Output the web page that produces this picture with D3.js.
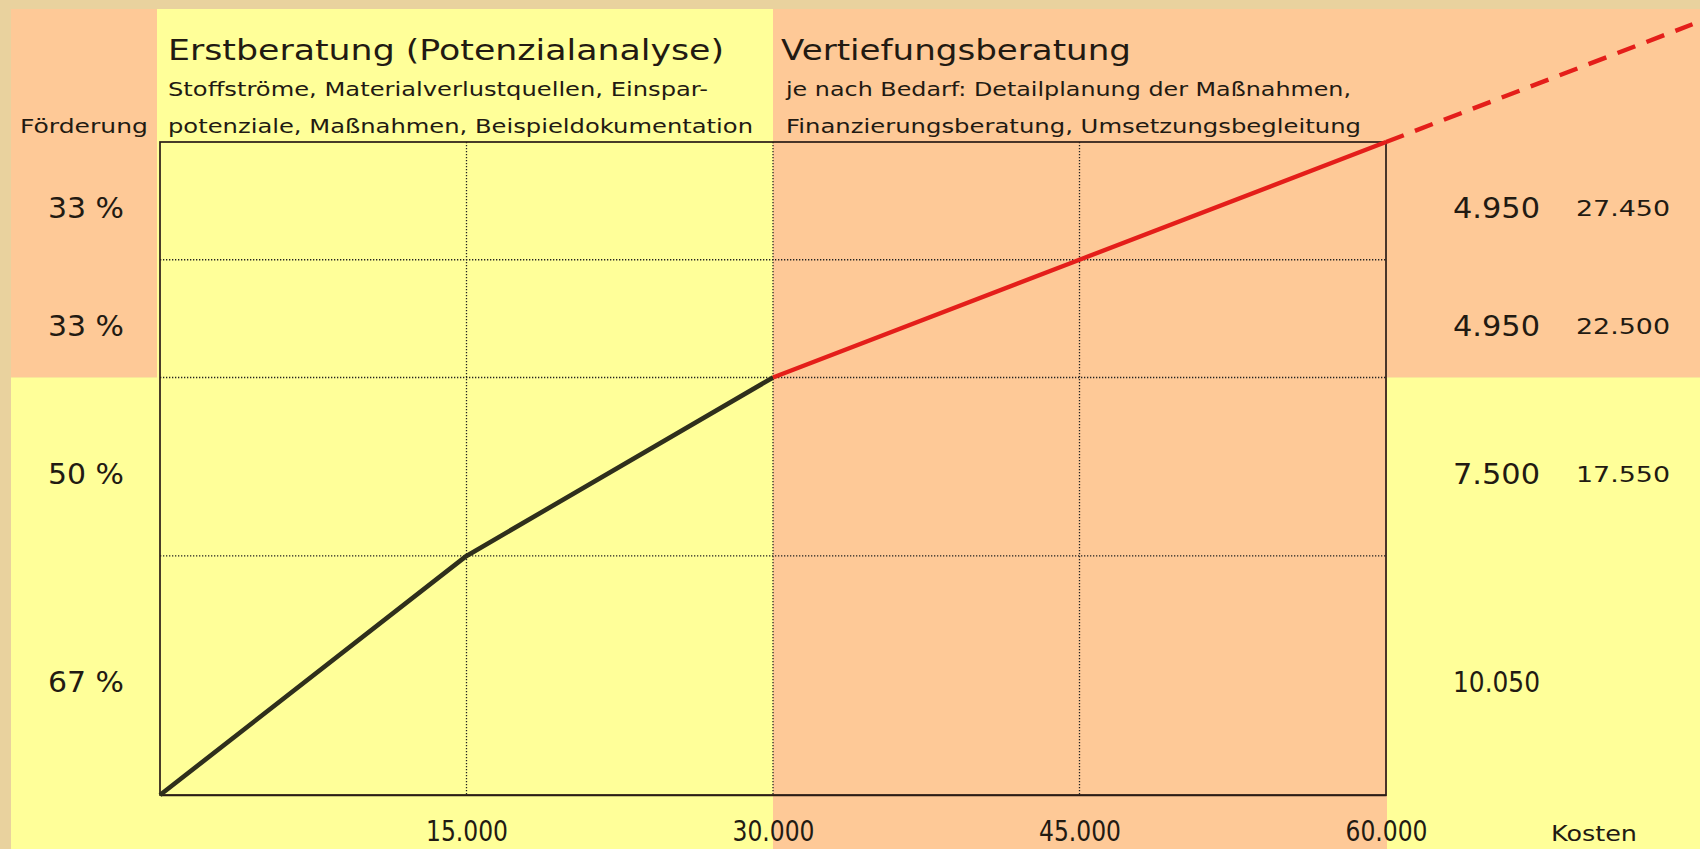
<!DOCTYPE html>
<html>
<head>
<meta charset="utf-8">
<script src="https://cdn.jsdelivr.net/npm/d3@7"></script>
<style>
  html, body { margin: 0; padding: 0; background: #e9d29e; }
  svg { display: block; }
  text { font-family: "DejaVu Sans", Verdana, sans-serif; fill: #221a12; }
</style>
</head>
<body>
<svg id="chart" width="1700" height="849"></svg>
<script>
// ---------- data ----------
const costPoints = [0, 15000, 30000, 45000, 60000];          // Kosten (EUR)
const fundingCumulative = [0, 10050, 17550, 22500, 27450];   // kumulierte Förderung
const extensionCost = [60000, 75000];
const extensionFunding = [27450, 32400];
const rateLabels = ["67 %", "50 %", "33 %", "33 %"];
const incrementLabels = ["10.050", "7.500", "4.950", "4.950"];
const cumulativeLabels = ["", "17.550", "22.500", "27.450"];
const xTickValues = [15000, 30000, 45000, 60000];
const phaseTitles = ["Erstberatung (Potenzialanalyse)", "Vertiefungsberatung"];
const phaseLines1 = ["Stoffströme, Materialverlustquellen, Einspar-", "je nach Bedarf: Detailplanung der Maßnahmen,"];
const phaseLines2 = ["potenziale, Maßnahmen, Beispieldokumentation", "Finanzierungsberatung, Umsetzungsbegleitung"];
const yAxisTitle = "Förderung";
const xAxisTitle = "Kosten";

// ---------- setup ----------
const W = 1700, H = 849;
const COL_YELLOW = "#ffff99", COL_SALMON = "#fec997", COL_BEIGE = "#e9d29e";
const svg = d3.select("#chart");
const x = d3.scaleLinear().domain([0, 60000]).range([160, 1386]);
const y = d3.scaleLinear().domain([0, 27450]).range([795, 142]);
const de = d3.formatLocale({decimal: ",", thousands: ".", grouping: [3], currency: ["", " €"]});
const fmt = de.format(",.0f");

// ---------- background panels ----------
const top0 = 9, left0 = 11;
svg.append("rect").attr("x", 0).attr("y", 0).attr("width", W).attr("height", H).attr("fill", COL_BEIGE);
const panels = [
  {x0: left0, x1: x(0) - 3, y0: top0, y1: y(17550), c: COL_SALMON},
  {x0: left0, x1: x(0) - 3, y0: y(17550), y1: H, c: COL_YELLOW},
  {x0: x(0) - 3, x1: x(30000), y0: top0, y1: H, c: COL_YELLOW},
  {x0: x(30000), x1: x(60000) + 1, y0: top0, y1: H, c: COL_SALMON},
  {x0: x(60000) + 1, x1: W, y0: top0, y1: y(17550), c: COL_SALMON},
  {x0: x(60000) + 1, x1: W, y0: y(17550), y1: H, c: COL_YELLOW}
];
svg.append("g").selectAll("rect").data(panels).join("rect")
  .attr("x", d => d.x0).attr("y", d => d.y0)
  .attr("width", d => d.x1 - d.x0).attr("height", d => d.y1 - d.y0)
  .attr("fill", d => d.c);

// ---------- gridlines ----------
const grid = svg.append("g").attr("stroke", "#222").attr("stroke-width", 1.3).attr("stroke-dasharray", "1.3,1.7");
grid.selectAll("line.v").data(xTickValues.slice(0, 3)).join("line").attr("class", "v")
  .attr("x1", d => x(d)).attr("x2", d => x(d)).attr("y1", y(27450)).attr("y2", y(0));
grid.selectAll("line.h").data(fundingCumulative.slice(1, 4)).join("line").attr("class", "h")
  .attr("x1", x(0)).attr("x2", x(60000)).attr("y1", d => y(d)).attr("y2", d => y(d));

// ---------- frame / axes ----------
svg.append("rect").attr("x", x(0)).attr("y", y(27450))
  .attr("width", x(60000) - x(0)).attr("height", y(0) - y(27450))
  .attr("fill", "none").attr("stroke", "#2a1c16").attr("stroke-width", 1.7);

const xAxis = svg.append("g").attr("transform", `translate(0,${y(0)})`)
  .call(d3.axisBottom(x).tickValues(xTickValues).tickSize(0).tickPadding(0).tickFormat(fmt));
xAxis.select(".domain").attr("stroke", "#2a1c16").attr("stroke-width", 1.7);
xAxis.selectAll(".tick text")
  .attr("y", 46).attr("dy", 0)
  .attr("font-size", 28).attr("font-family", "DejaVu Sans, sans-serif").attr("fill", "#221a12")
  .attr("textLength", 82).attr("lengthAdjust", "spacingAndGlyphs");

svg.append("text").attr("x", 1594).attr("y", 841).attr("text-anchor", "middle")
  .attr("font-size", 21).attr("textLength", 86).attr("lengthAdjust", "spacingAndGlyphs").text(xAxisTitle);

// ---------- line ----------
const pts = costPoints.map((c, i) => [c, fundingCumulative[i]]);
const line = d3.line().x(d => x(d[0])).y(d => y(d[1]));
svg.append("path").attr("d", line(pts.slice(0, 3))).attr("fill", "none")
  .attr("stroke", "#2f2f1c").attr("stroke-width", 4.6).attr("stroke-linejoin", "round");
svg.append("path").attr("d", line(pts.slice(2))).attr("fill", "none")
  .attr("stroke", "#e41e1a").attr("stroke-width", 4.4).attr("stroke-linejoin", "round");
const ext = extensionCost.map((c, i) => [c, extensionFunding[i]]);
svg.append("path").attr("d", line(ext)).attr("fill", "none")
  .attr("stroke", "#e41e1a").attr("stroke-width", 4.4).attr("stroke-dasharray", "19,12");

// ---------- band labels ----------
const bands = rateLabels.map((r, i) => ({
  rate: r, inc: incrementLabels[i], cum: cumulativeLabels[i],
  mid: (fundingCumulative[i] + fundingCumulative[i + 1]) / 2
}));
const bl = svg.append("g");
bl.selectAll("text.rate").data(bands).join("text").attr("class", "rate")
  .attr("x", 86).attr("y", d => y(d.mid) + 17).attr("text-anchor", "middle")
  .attr("font-size", 29).attr("textLength", 76).attr("lengthAdjust", "spacingAndGlyphs").text(d => d.rate);
bl.selectAll("text.inc").data(bands).join("text").attr("class", "inc")
  .attr("x", 1540).attr("y", d => y(d.mid) + 17).attr("text-anchor", "end")
  .attr("font-size", 29).attr("textLength", 87).attr("lengthAdjust", "spacingAndGlyphs").text(d => d.inc);
bl.selectAll("text.cum").data(bands.filter(d => d.cum)).join("text").attr("class", "cum")
  .attr("x", 1670).attr("y", d => y(d.mid) + 15).attr("text-anchor", "end")
  .attr("font-size", 22).attr("textLength", 94).attr("lengthAdjust", "spacingAndGlyphs").text(d => d.cum);

// ---------- header texts ----------
const hx = [168, 781];
const hdr = svg.append("g");
hdr.selectAll("text.title").data(phaseTitles).join("text").attr("class", "title")
  .attr("x", (d, i) => hx[i]).attr("y", 60).attr("font-size", 29)
  .attr("textLength", (d, i) => [556, 350][i]).attr("lengthAdjust", "spacingAndGlyphs").text(d => d);
hdr.selectAll("text.l1").data(phaseLines1).join("text").attr("class", "l1")
  .attr("x", (d, i) => hx[i] + (i ? 5 : 0)).attr("y", 96).attr("font-size", 19)
  .attr("textLength", (d, i) => [540, 565][i]).attr("lengthAdjust", "spacingAndGlyphs").text(d => d);
hdr.selectAll("text.l2").data(phaseLines2).join("text").attr("class", "l2")
  .attr("x", (d, i) => hx[i] + (i ? 5 : 0)).attr("y", 133).attr("font-size", 19)
  .attr("textLength", (d, i) => [585, 575][i]).attr("lengthAdjust", "spacingAndGlyphs").text(d => d);
svg.append("text").attr("x", 20).attr("y", 133).attr("font-size", 19)
  .attr("textLength", 128).attr("lengthAdjust", "spacingAndGlyphs").text(yAxisTitle);
</script>
</body>
</html>
